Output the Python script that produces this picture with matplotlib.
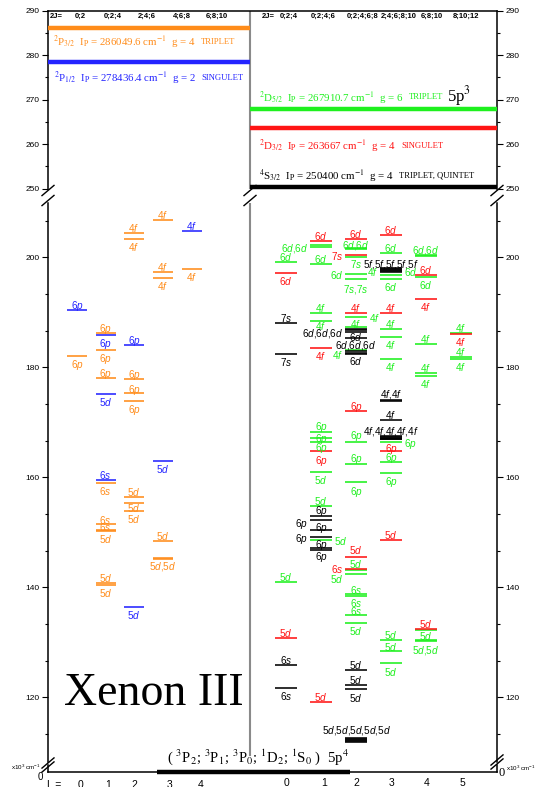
import re
import matplotlib
matplotlib.use("Agg")
import matplotlib.pyplot as plt
from matplotlib.ticker import MultipleLocator, AutoMinorLocator
from matplotlib.lines import Line2D

plt.rcParams.update({
    "font.family": "Liberation Sans",
    "mathtext.fontset": "custom",
    "mathtext.rm": "Liberation Sans",
    "mathtext.it": "Liberation Sans:italic",
    "mathtext.bf": "Liberation Sans:bold",
})

# ---------------------------------------------------------------------------
# Xe IV 5p^3 core terms and the Xe III ionisation limits built on them (cm^-1)
core_terms = ["P32", "P12", "D52", "D32", "S32"]
core_symbols = [r"$^{2}$P$_{3/2}$", r"$^{2}$P$_{1/2}$", r"$^{2}$D$_{5/2}$",
                r"$^{2}$D$_{3/2}$", r"$^{4}$S$_{3/2}$"]
limit_values = [286049.6, 278436.4, 267910.7, 263667.0, 250400.0]
limit_g = [4, 2, 6, 4, 4]
limit_mult = ["TRIPLET", "SINGULET", "TRIPLET", "SINGULET", "TRIPLET, QUINTET"]

# Excited levels (L, energy in 10^3 cm^-1), grouped by parent core
levels_P32 = [(3, 206.7), (2, 204.4), (2, 203.3), (3, 197.3), (3, 196.2), (4, 197.9),
              (1, 186.3), (1, 183.2), (0, 182.1), (1, 178.0), (2, 177.9), (2, 175.4),
              (2, 173.9), (1, 158.9), (2, 156.4), (2, 155.4), (2, 153.9), (1, 151.6),
              (1, 150.5), (1, 150.3), (3, 148.5), (3, 145.4), (3, 145.2), (1, 140.7),
              (1, 140.4)]
levels_P12 = [(4, 204.8), (0, 190.5), (1, 185.9), (2, 184.1), (1, 175.1), (3, 163.0),
              (1, 159.5), (2, 136.4)]
levels_D52 = [(0, 199.2), (0, 141.0),
              (1, 202.3), (1, 201.9), (1, 198.8), (1, 189.8), (1, 188.5), (1, 168.2),
              (1, 167.1), (1, 166.5), (1, 160.9), (1, 154.8), (1, 148.6),
              (2, 201.7), (2, 201.5), (2, 200.1), (2, 197.0), (2, 196.1), (2, 189.1),
              (2, 187.3), (2, 183.1), (2, 166.5), (2, 162.4), (2, 159.1), (2, 143.2),
              (2, 142.4), (2, 138.8), (2, 138.4), (2, 135.0), (2, 133.5),
              (3, 200.7), (3, 196.7), (3, 196.1), (3, 186.9), (3, 185.5), (3, 181.6),
              (3, 166.5), (3, 162.7), (3, 160.8), (3, 130.4), (3, 128.5), (3, 126.3),
              (4, 200.5), (4, 200.3), (4, 196.4), (4, 184.2), (4, 179.0), (4, 178.5),
              (4, 132.2), (4, 130.5), (4, 130.3),
              (5, 186.2), (5, 181.8), (5, 181.6)]
levels_D32 = [(0, 197.2), (0, 130.8),
              (1, 202.9), (1, 183.6), (1, 164.7), (1, 119.2),
              (2, 203.3), (2, 200.5), (2, 189.9), (2, 172.1), (2, 145.5), (2, 143.3),
              (3, 204.1), (3, 189.9), (3, 164.7), (3, 148.6),
              (4, 196.7), (4, 192.5), (4, 132.5),
              (5, 186.1)]
levels_S32 = [(0, 188.1), (0, 182.4), (0, 125.9), (0, 121.7),
              (1, 153.0), (1, 152.2), (1, 150.4), (1, 149.2), (1, 147.1), (1, 146.8),
              (2, 186.95), (2, 186.7), (2, 186.5), (2, 185.3), (2, 182.9), (2, 182.65),
              (2, 182.4), (2, 125.0), (2, 122.2), (2, 121.5), (2, 112.6), (2, 112.4),
              (2, 112.2), (2, 112.0), (2, 111.8),
              (3, 198.0), (3, 197.85), (3, 197.7), (3, 197.55), (3, 197.4), (3, 174.0),
              (3, 173.8), (3, 170.4), (3, 167.5), (3, 167.35), (3, 167.2), (3, 167.05),
              (3, 166.9)]

# Configuration labels: (L, energy of the level, text, core, placement[, shift px])
labels_left = [
    (3, 206.7, "4f", "P32", "a"), (2, 204.4, "4f", "P32", "a"), (2, 203.3, "4f", "P32", "b"),
    (4, 204.8, "4f", "P12", "a"), (3, 197.3, "4f", "P32", "a"), (3, 196.2, "4f", "P32", "b"),
    (4, 197.9, "4f", "P32", "b"), (0, 190.5, "6p", "P12", "a"), (1, 186.3, "6p", "P32", "a"),
    (1, 185.9, "6p", "P12", "b"), (1, 183.2, "6p", "P32", "b"), (2, 184.1, "6p", "P12", "a"),
    (0, 182.1, "6p", "P32", "b"), (1, 178.0, "6p", "P32", "a"), (2, 177.9, "6p", "P32", "a"),
    (1, 175.1, "5d", "P12", "b"), (2, 175.4, "6p", "P32", "a", 4.5),
    (2, 173.9, "6p", "P32", "b"), (3, 163.0, "5d", "P12", "b"), (1, 159.5, "6s", "P12", "a"),
    (1, 158.9, "6s", "P32", "b"), (2, 156.4, "5d", "P32", "a"), (2, 155.4, "5d", "P32", "b", -4),
    (2, 153.9, "5d", "P32", "b"), (1, 151.6, "6s", "P32", "a", 5),
    (1, 150.5, "6s", "P32", "a", 4), (1, 150.3, "5d", "P32", "b"),
    (3, 148.5, "5d", "P32", "a"), (3, 145.3, "5d,5d", "P32", "b"),
    (1, 140.7, "5d", "P32", "a"), (1, 140.4, "5d", "P32", "b"), (2, 136.4, "5d", "P12", "b"),
]
labels_right = [
    (0, 199.2, "6d", "D52", "a"), (0, 197.2, "6d", "D32", "b"), (0, 188.1, "7s", "S32", "a"),
    (0, 182.4, "7s", "S32", "b"), (0, 141.0, "5d", "D52", "a"), (0, 130.8, "5d", "D32", "a"),
    (0, 125.9, "6s", "S32", "a"), (0, 121.7, "6s", "S32", "b"),
    (1, 202.9, "6d", "D32", "a"), (1, 202.0, "6d,6d", "D52", "l"), (1, 198.8, "6d", "D52", "a"),
    (1, 189.8, "4f", "D52", "a"), (1, 188.5, "4f", "D52", "b", -4.5),
    (1, 183.6, "4f", "D32", "b"), (1, 168.2, "6p", "D52", "a", 7),
    (1, 167.1, "6p", "D52", "a", 1), (1, 164.7, "6p", "D52", "a", 5.7),
    (1, 164.7, "6p", "D32", "b", -8), (1, 160.9, "5d", "D52", "b"),
    (1, 154.8, "5d", "D52", "a"), (1, 153.0, "6p", "S32", "a", 6.7),
    (1, 152.2, "6p", "S32", "l", -1.7), (1, 150.4, "6p", "S32", "a", 4.3),
    (1, 149.2, "6p", "S32", "l"), (1, 148.6, "5d", "D52", "r"),
    (1, 147.1, "6p", "S32", "a", 5), (1, 146.8, "6p", "S32", "b", -5),
    (1, 119.2, "5d", "D32", "a"),
    (2, 203.3, "6d", "D32", "a"), (2, 201.6, "6d,6d", "D52", "a", 4.7),
    (2, 200.5, "7s", "D32", "l"), (2, 200.1, "7s", "D52", "b", -5.8),
    (2, 197.0, "6d", "D52", "l"), (2, 196.1, "7s,7s", "D52", "b", -8.6),
    (2, 189.9, "4f", "D32", "a"), (2, 189.1, "4f", "D52", "r"),
    (2, 189.1, "4f", "D52", "b", -6), (2, 186.6, "6d,6d,6d", "S32", "l", -1),
    (2, 185.3, "6d", "S32", "a", 2.6), (2, 182.4, "6d,6d,6d", "S32", "a", 10),
    (2, 182.4, "6d", "S32", "b", -5.7), (2, 183.1, "4f", "D52", "l", -4),
    (2, 172.1, "6p", "D32", "a"), (2, 166.5, "6p", "D52", "a", 7.7),
    (2, 162.4, "6p", "D52", "a", 6.6), (2, 159.1, "6p", "D52", "b", -8),
    (2, 145.5, "5d", "D32", "a", 8), (2, 143.2, "5d", "D52", "a", 6.6),
    (2, 143.3, "6s", "D32", "l", 1), (2, 142.4, "5d", "D52", "l", -4),
    (2, 138.8, "6s", "D52", "a", 4.7), (2, 138.4, "6s", "D52", "b", -5.7),
    (2, 135.0, "6s", "D52", "a", 5), (2, 133.5, "5d", "D52", "b", -6.7),
    (2, 125.0, "5d", "S32", "a", 5.7), (2, 122.2, "5d", "S32", "a", 6.7),
    (2, 121.5, "5d", "S32", "b", -8.3), (2, 112.6, "5d,5d,5d,5d,5d", "S32", "a", 9),
    (3, 204.1, "6d", "D32", "a", 5.7), (3, 200.7, "6d", "D52", "a"),
    (3, 198.0, "5f,5f,5f,5f,5f", "S32", "a", 6), (3, 196.7, "4f", "D52", "l", 4.6),
    (3, 196.7, "6d", "D52", "r", 4.6), (3, 196.1, "6d", "D52", "b", -7.6),
    (3, 189.9, "4f", "D32", "a", 5.4), (3, 186.9, "4f", "D52", "a"),
    (3, 185.5, "4f", "D52", "b"), (3, 181.6, "4f", "D52", "b"),
    (3, 174.0, "4f,4f", "S32", "a", 7.4), (3, 170.4, "4f", "S32", "a"),
    (3, 167.5, "4f,4f,4f,4f,4f", "S32", "a", 6), (3, 166.5, "6p", "D52", "r"),
    (3, 164.7, "6p", "D32", "a", 4), (3, 162.7, "6p", "D52", "a"),
    (3, 160.8, "6p", "D52", "b", -6.6), (3, 148.6, "5d", "D32", "a"),
    (3, 130.4, "5d", "D52", "a", 5.7), (3, 128.5, "5d", "D52", "a", 4.3),
    (3, 126.3, "5d", "D52", "b", -8),
    (4, 200.5, "6d,6d", "D52", "a"), (4, 196.7, "6d", "D32", "a"),
    (4, 196.4, "6d", "D52", "b"), (4, 192.5, "4f", "D32", "b"),
    (4, 184.2, "4f", "D52", "a"), (4, 179.0, "4f", "D52", "a"), (4, 178.5, "4f", "D52", "b"),
    (4, 132.5, "5d", "D32", "a"), (4, 132.2, "5d", "D52", "b", -4.3),
    (4, 130.4, "5d,5d", "D52", "b", -8.3),
    (5, 186.2, "4f", "D52", "a"), (5, 186.1, "4f", "D32", "b"),
    (5, 181.8, "4f", "D52", "a"), (5, 181.6, "4f", "D52", "b"),
]

# Ground term 5p^4
ground_energy = 0.0
ground_text = r"( $^{3}$P$_{2}$; $^{3}$P$_{1}$; $^{3}$P$_{0}$; $^{1}$D$_{2}$; $^{1}$S$_{0}$ )  5p$^{4}$"

# 2J values reachable in each L column
twoJ_left = ["0;2", "0;2;4", "2;4;6", "4;6;8", "6;8;10"]
twoJ_right = ["0;2;4", "0;2;4;6", "0;2;4;6;8", "2;4;6;8;10", "6;8;10", "8;10;12"]
L_left = [0, 1, 2, 3, 4]
L_right = [0, 1, 2, 3, 4, 5]

# ---------------------------------------------------------------------------
colors = {"P32": "#FF8C1A", "P12": "#2424FF", "D52": "#1EF01E", "D32": "#FF1414",
          "S32": "#000000"}
left_block = {"P32", "P12"}

W, H = 537, 787
fig = plt.figure(figsize=(W / 100, H / 100), dpi=100)


def fig_rect(x0, y0, x1, y1):
    return [x0 / W, 1 - y1 / H, (x1 - x0) / W, (y1 - y0) / H]


def fxy(px, py):
    return px / W, 1 - py / H


X0, XM, X1 = 48, 250, 497
col_left = [77, 105.5, 134, 163, 192]
col_right = [286, 321, 356, 391, 426, 461]
hw_left, hw_right = 10, 11
PT = 0.72  # points per pixel

ax_top = fig.add_axes(fig_rect(X0, 10.7, X1, 188.7))
ax_main = fig.add_axes(fig_rect(X0, 203, X1, 762))
ax_bot = fig.add_axes(fig_rect(X0, 765, X1, 772))

main_lo = 160 - (762 - 477.3) / 5.5
main_hi = 160 + (477.3 - 203) / 5.5
ax_top.set_ylim(250, 290)
ax_main.set_ylim(main_lo, main_hi)
ax_bot.set_ylim(0, 1.3)

for ax in (ax_top, ax_main, ax_bot):
    ax.set_xlim(X0, X1)
    ax.set_xticks([])
    for s in ax.spines.values():
        s.set_linewidth(1.1)
    ax.tick_params(axis="y", which="both", left=True, right=True, direction="out",
                   labelsize=6, width=0.8, pad=2)
    ax.tick_params(axis="y", which="major", length=4)
    ax.tick_params(axis="y", which="minor", length=2.5)

ax_top.spines["bottom"].set_visible(False)
ax_main.spines["top"].set_visible(False)
ax_main.spines["bottom"].set_visible(False)
ax_bot.spines["top"].set_visible(False)

ax_top.yaxis.set_major_locator(MultipleLocator(10))
ax_top.yaxis.set_minor_locator(MultipleLocator(5))
ax_main.yaxis.set_major_locator(MultipleLocator(20))
ax_main.yaxis.set_minor_locator(AutoMinorLocator(3))
for ax in (ax_top, ax_main):
    ax.tick_params(axis="y", labelleft=True, labelright=True)
ax_bot.set_yticks([0])
ax_bot.tick_params(axis="y", labelleft=False, labelright=False, length=0)

# central divider between the 2P and the 2D/4S blocks
ax_top.axvline(XM, color="#8a8a8a", lw=1.5)
ax_main.axvline(XM, color="#8a8a8a", lw=1.5, ymin=(762 - 755) / (762 - 203))

# ionisation limits
serif = dict(family="Liberation Serif", math_fontfamily="stix")
limit_text_pos = {"P32": (53, 283.0), "P12": (54, 274.9), "D52": (259, 270.5),
                  "D32": (259, 259.6), "S32": (259, 252.9)}
for term, sym, val, g, mult in zip(core_terms, core_symbols, limit_values, limit_g,
                                   limit_mult):
    e = val / 1000.0
    if term in left_block:
        xa, xb = X0, XM
    else:
        xa, xb = XM, X1
    ax_top.hlines(e, xa, xb, color=colors[term], lw=3.2, clip_on=False, zorder=3)
    vtxt = f"{val:.1f}" if val % 1 else f"{val:.0f}"
    s = sym + r"  I$_{\mathrm{P}}$ = " + vtxt + r" cm$^{-1}$  g = " + str(g)
    tx, ty = limit_text_pos[term]
    t = ax_top.text(tx, ty, s, color=colors[term], fontsize=7.8, va="center", ha="left",
                    **serif)
    ax_top.annotate(mult, xy=(1, 0.5), xycoords=t, xytext=(4, 0),
                    textcoords="offset points", va="center", ha="left",
                    color=colors[term], fontsize=6.2, family="Liberation Serif")

ax_top.text(459, 270.8, r"5p$^{3}$", fontsize=12, ha="center", va="center", **serif)

# 2J header row
hdr = dict(fontsize=5.5, fontweight="bold", ha="center", va="center")
for x, s in zip([56, 80, 113, 147, 182, 217], ["2J="] + twoJ_left):
    ax_top.text(x, 288.8, s, **hdr)
for x, s in zip([268, 289, 323, 363, 399, 432, 466], ["2J="] + twoJ_right):
    ax_top.text(x, 288.8, s, **hdr)


# excited levels
def level_x(term, L):
    if term in left_block:
        return col_left[L], hw_left
    return col_right[L], hw_right


for term, lev in [("P32", levels_P32), ("P12", levels_P12), ("D52", levels_D52),
                  ("D32", levels_D32), ("S32", levels_S32)]:
    for L, e in lev:
        xc, hw = level_x(term, L)
        ax_main.hlines(e, xc - hw, xc + hw, color=colors[term], lw=1.15, zorder=2)


def cfg(s):
    return re.sub(r"([spdf])", r"$\\mathit{\1}$", s)


def put_label(item):
    L, e, text, term, pos = item[:5]
    shift = item[5] if len(item) > 5 else None
    xc, hw = level_x(term, L)
    if pos == "a":
        dx, dy, ha = 0, (6 if shift is None else shift), "center"
    elif pos == "b":
        dx, dy, ha = 0, (-7 if shift is None else shift), "center"
    elif pos == "l":
        dx, dy, ha = -(hw + 2), (0 if shift is None else shift), "right"
    else:
        dx, dy, ha = hw + 2, (0 if shift is None else shift), "left"
    ax_main.annotate(cfg(text), xy=(xc, e), xytext=(dx * PT, dy * PT),
                     textcoords="offset points", ha=ha, va="center_baseline",
                     color=colors[term], fontsize=7.2, zorder=4)


for item in labels_left + labels_right:
    put_label(item)

# title
ax_main.text(154, 118.6, "Xenon III", fontsize=33, ha="center", va="baseline",
             family="Liberation Serif")

# ground state
ax_bot.hlines(ground_energy, 157, 350, color="black", lw=3.2, clip_on=False, zorder=3)
gx, gy = fxy(258, 762)
fig.text(gx, gy, ground_text, fontsize=10.6, ha="center", va="baseline", **serif)

# L labels along the bottom
for x, s in zip([54, 80, 108, 134, 170, 201], ["L ="] + [str(v) for v in L_left]):
    fig.text(*fxy(x, 779.5), s, fontsize=7.5, ha="center", va="top")
for x, s in zip([286, 324, 356, 392, 427, 462], [str(v) for v in L_right]):
    fig.text(*fxy(x, 778.5), s, fontsize=7.5, ha="center", va="top")

# energy zero and unit marks
fig.text(*fxy(40, 777), "0", fontsize=7, ha="center", va="center")
fig.text(*fxy(502, 773), "0", fontsize=9, ha="center", va="center", family="Liberation Serif")
fig.text(*fxy(26, 767), r"x10$^{3}$ cm$^{-1}$", fontsize=4.5, ha="center", va="center")
fig.text(*fxy(521, 768), r"x10$^{3}$ cm$^{-1}$", fontsize=4.5, ha="center", va="center")


# axis break marks
def break_mark(xc, yc, gap=4.5, half=6):
    for off in (-gap / 2, gap / 2):
        xa, ya = fxy(xc - half, yc + off + half * 0.85)
        xb, yb = fxy(xc + half, yc + off - half * 0.85)
        fig.add_artist(Line2D([xa, xb], [ya, yb], color="black", lw=1.0))


for x in (X0, XM, X1):
    break_mark(x, 195.5, gap=10)
break_mark(X0, 765, gap=4)
break_mark(X1, 762, gap=4)

fig.savefig("out.png", dpi=100)
